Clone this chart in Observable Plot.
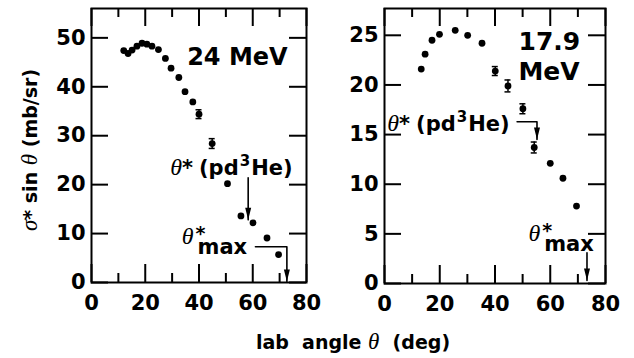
<!DOCTYPE html>
<html><head><meta charset="utf-8">
<script src="https://cdn.jsdelivr.net/npm/d3@7"></script>
<script src="https://cdn.jsdelivr.net/npm/@observablehq/plot@0.6"></script>
<style>
html,body{margin:0;padding:0;background:#fff;}
#chart{position:relative;width:634px;height:358px;overflow:hidden;font-family:"DejaVu Sans",sans-serif;font-weight:bold;color:#000;}
#chart svg{position:absolute;top:0;}
.ylab{position:absolute;left:30px;top:150px;transform:translate(-50%,-50%) rotate(-90deg);white-space:pre;font-size:19px;line-height:19px;}
.xlab{position:absolute;left:353px;top:332px;transform:translateX(-50%);white-space:pre;font-size:19px;line-height:19px;}
.it{font-family:"Liberation Serif",serif;font-style:italic;font-weight:normal;font-size:23px;}
</style></head><body><div id="chart"></div>
<script>
// ---- data: 24 MeV panel ----
const deg24 = [12, 13.6, 15.1, 16.9, 18.8, 20.6, 22.5, 24.9, 27.5, 29.6, 32.5, 34.8, 37.7, 40, 44.9, 50.6, 55.6, 60.1, 65.3, 69.6];
const val24 = [47.4, 46.8, 47.5, 48.3, 48.9, 48.7, 48.3, 47.6, 45.8, 43.8, 41.9, 39.0, 36.9, 34.4, 28.4, 20.2, 13.6, 12.2, 9.1, 5.7];
const errDeg24 = [40, 44.9];
const errVal24 = [34.4, 28.4];
const errSize24 = [0.9, 1.0];
// ---- data: 17.9 MeV panel ----
const deg179 = [13.3, 14.7, 17.2, 19.9, 25.6, 30.1, 35.3, 40.1, 44.7, 50.1, 54.2, 60, 64.6, 69.5];
const val179 = [21.6, 23.1, 24.5, 25.1, 25.5, 25.0, 24.2, 21.4, 19.9, 17.6, 13.7, 12.1, 10.6, 7.8];
const errDeg179 = [40.1, 44.7, 50.1, 54.2];
const errVal179 = [21.4, 19.9, 17.6, 13.7];
const errSize179 = [0.45, 0.6, 0.5, 0.55];
// ---- axes ----
const xMajor = [0, 20, 40, 60, 80];
const xMinor = [10, 30, 50, 70];
const yTicks24 = [0, 10, 20, 30, 40, 50];
const yTicks179 = [0, 5, 10, 15, 20, 25];
// ---- annotations ----
const notes24 = [
  {x: 35.6, y: 44.4, text: "24 MeV", size: 24},
  {x: 29.3, y: 21.9, text: "θ*(pd3He)", size: 21},
  {x: 33.6, y: 7.8, text: "θ*max", size: 21}
];
const notes179 = [
  {x: 48.5, y: 23.5, text: "17.9", size: 25},
  {x: 48.5, y: 20.5, text: "MeV", size: 25},
  {x: 1.0, y: 15.4, text: "θ*(pd3He)", size: 21},
  {x: 52.1, y: 4.3, text: "θ*max", size: 21}
];
const arrows24 = [
  [[58.3, 21.4], [58.3, 12.8]],
  [[61, 7.3], [72.7, 7.3], [72.7, 0.2]]
];
const arrows179 = [
  [[48, 16.3], [55.2, 16.3], [55.2, 14.5]],
  [[73.3, 3.1], [73.3, 0.3]]
];

const arrowHead = {draw(ctx) { ctx.moveTo(0, 0); ctx.lineTo(-3, -12); ctx.lineTo(3, -12); ctx.closePath(); }};

function panel(o) {
  const H = 358 - 8 - o.mb;            // inner plot height
  const W = o.width - o.ml - o.mr;     // inner plot width
  const pts = o.deg.map((d, i) => ({x: d, y: o.val[i]}));
  const errs = o.errDeg.map((d, i) => ({x: d, lo: o.errVal[i] - o.errSize[i], hi: o.errVal[i] + o.errSize[i]}));
  const segs = o.arrows.flatMap((a, k) => a.map(p => ({x: p[0], y: p[1], k})));
  const tips = o.arrows.map(a => ({x: a[a.length - 1][0], y: a[a.length - 1][1]}));
  const sw = {stroke: "black", strokeWidth: 2};
  return Plot.plot({
    width: o.width, height: 358,
    marginLeft: o.ml, marginRight: o.mr, marginTop: 8, marginBottom: o.mb,
    x: {domain: [0, 80], label: null},
    y: {domain: o.yDomain, label: null},
    style: {fontFamily: "DejaVu Sans", fontWeight: "bold", fontSize: "21px", color: "black", background: "transparent", overflow: "visible"},
    marks: [
      // inward tick marks on all four sides
      Plot.ruleX(xMajor, {x: d => d, insetTop: H - 18, ...sw}),
      Plot.ruleX(xMinor, {x: d => d, insetTop: H - 9, ...sw}),
      Plot.ruleX(xMajor, {x: d => d, insetBottom: H - 18, ...sw}),
      Plot.ruleX(xMinor, {x: d => d, insetBottom: H - 9, ...sw}),
      Plot.ruleY(o.yTicks, {y: d => d, insetRight: W - 17, ...sw}),
      Plot.ruleY(o.yTicks, {y: d => d, insetLeft: W - 17, ...sw}),
      Plot.axisX({ticks: xMajor, tickSize: 0, tickPadding: 13, label: null, fontSize: 21, fontWeight: "bold"}),
      Plot.axisY({ticks: o.yTicks, tickSize: 0, tickPadding: 6, label: null, fontSize: 21, fontWeight: "bold"}),
      Plot.frame({stroke: "black", strokeWidth: 2}),
      Plot.ruleX(errs, {x: "x", y1: "lo", y2: "hi", strokeWidth: 1.5}),
      Plot.ruleY(errs, {y: "lo", x1: "x", x2: "x", insetLeft: -3, insetRight: -3, strokeWidth: 1.5}),
      Plot.ruleY(errs, {y: "hi", x1: "x", x2: "x", insetLeft: -3, insetRight: -3, strokeWidth: 1.5}),
      Plot.dot(pts, {x: "x", y: "y", r: 3.4, fill: "black", stroke: "none"}),
      Plot.line(segs, {x: "x", y: "y", z: "k", stroke: "black", strokeWidth: 1.6, curve: "linear"}),
      Plot.dot(tips, {x: "x", y: "y", symbol: arrowHead, fill: "black", stroke: "none", r: 5}),
      Plot.text(o.notes, {x: "x", y: "y", text: "text", fontSize: "size", textAnchor: "start", lineAnchor: "bottom", fontWeight: "bold", fill: "black"})
    ]
  });
}

function richify(svg) {
  d3.select(svg).selectAll("text").each(function () {
    const t = this.textContent;
    const s = d3.select(this);
    if (t === "θ*(pd3He)") {
      this.textContent = "";
      s.append("tspan").attr("font-family", "Liberation Serif").attr("font-style", "italic").attr("font-weight", "normal").attr("font-size", 24).text("θ");
      s.append("tspan").text("*");
      s.append("tspan").attr("dx", 6).text("(pd");
      s.append("tspan").attr("font-size", 15).attr("dy", -9).attr("dx", 1).text("3");
      s.append("tspan").attr("dy", 9).attr("dx", 1).text("He)");
    } else if (t === "θ*max") {
      this.textContent = "";
      s.append("tspan").attr("font-family", "Liberation Serif").attr("font-style", "italic").attr("font-weight", "normal").attr("font-size", 24).text("θ");
      s.append("tspan").attr("dx", 2).attr("dy", -4).attr("font-size", 19).text("*");
      s.append("tspan").attr("dx", -8).attr("dy", 14).text("max");
    }
  });
  return svg;
}

const chart = document.getElementById("chart");
const left = richify(panel({deg: deg24, val: val24, errDeg: errDeg24, errVal: errVal24, errSize: errSize24,
  yTicks: yTicks24, yDomain: [0, 56], width: 320, ml: 91, mr: 14, mb: 76, notes: notes24, arrows: arrows24}));
left.style.left = "0px";
chart.appendChild(left);
const right = richify(panel({deg: deg179, val: val179, errDeg: errDeg179, errVal: errVal179, errSize: errSize179,
  yTicks: yTicks179, yDomain: [0, 27.7], width: 314, ml: 64, mr: 29, mb: 75, notes: notes179, arrows: arrows179}));
right.style.left = "320px";
chart.appendChild(right);

const ylab = document.createElement("div");
ylab.className = "ylab";
ylab.innerHTML = '<span class="it">σ</span>* sin <span class="it">θ</span> (mb/sr)';
chart.appendChild(ylab);
const xlab = document.createElement("div");
xlab.className = "xlab";
xlab.innerHTML = 'lab  angle <span class="it">θ</span>  (deg)';
chart.appendChild(xlab);
</script></body></html>
